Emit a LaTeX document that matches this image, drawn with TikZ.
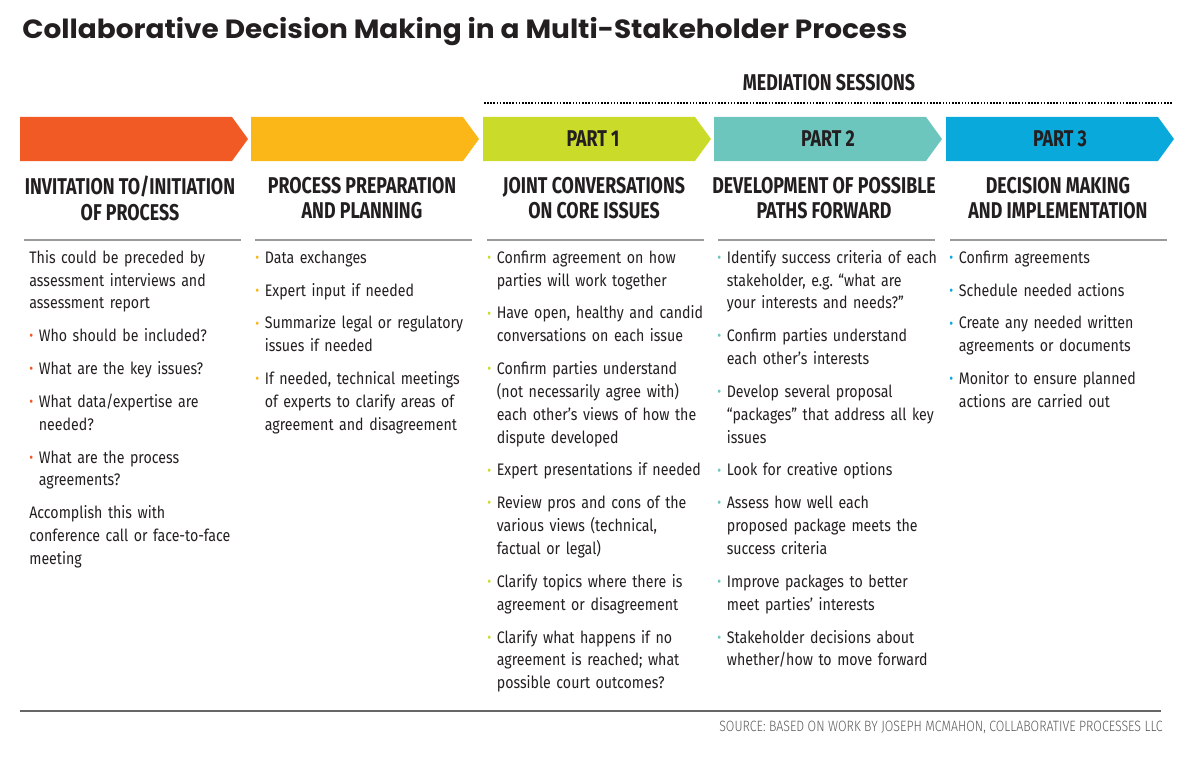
\documentclass[tikz,border=0pt]{standalone}
\usepackage{fontspec}
\setmainfont{Fira Sans}
\newfontfamily\titlefont[FakeStretch=1.06]{Poppins}
\newfontfamily\headfont[FakeStretch=0.78]{Fira Sans}
\newfontfamily\bodyfont[FakeStretch=0.85]{Fira Sans}
\newfontfamily\srcfont[FakeStretch=0.83,UprightFont=* Light]{Fira Sans}

\definecolor{ink}{HTML}{231F20}
\definecolor{orng}{HTML}{F15A24}
\definecolor{yel}{HTML}{FBB618}
\definecolor{lime}{HTML}{CBDB2A}
\definecolor{teal}{HTML}{6DC6BD}
\definecolor{blu}{HTML}{0AA9DC}
\definecolor{rulegray}{HTML}{9A9A9A}

\newlength{\bulw}
\setlength{\bulw}{5.4pt}
\newcommand{\dotb}[1]{\textcolor{#1}{\raisebox{0.5pt}{\fontsize{8}{8}\selectfont\textbullet}}}
\newcommand{\itm}[2]{\par\noindent\hangindent=\bulw\hangafter=1\makebox[\bulw][l]{\dotb{#1}}{\let\\\newline #2}\par}
\newcommand{\para}[1]{\par\noindent{\let\\\newline #1}\par}

\tikzset{
  body/.style={anchor=north west, inner sep=0pt, text width=4.7cm, text=ink,
    font=\bodyfont\fontsize{9.5}{13}\selectfont,
    execute at begin node={\raggedright\setlength{\parskip}{5.7pt}}},
  head/.style={inner sep=0pt, align=center, text=ink,
    font=\headfont\bfseries\fontsize{13}{14.7}\selectfont},
  part/.style={inner sep=0pt, text=ink, font=\headfont\bfseries\fontsize{13}{14}\selectfont},
  rule/.style={rulegray, line width=1.2pt}
}

\begin{document}
\begin{tikzpicture}[x=0.02cm, y=-0.02cm]
  \useasboundingbox (0,0) rectangle (1200,757);

  % title
  \node[anchor=base west, inner sep=0pt, text=ink, font=\titlefont\bfseries\fontsize{15}{17}\selectfont]
    (title) at (22,39) {Collaborative Decision Making in a Multi-Stakeholder Process};

  % mediation sessions
  \node[part] (med) at (829,83) {MEDIATION SESSIONS};
  \draw[line width=0.9pt, dash pattern=on 0.9pt off 0.9pt] (484,103) -- (1172,103);

  % arrows
  \foreach \x/\c in {20/orng, 251/yel, 483/lime, 714/teal, 946/blu}
    \fill[\c] (\x,117) -- ++(212,0) -- ++(16,22) -- ++(-16,22) -- ++(-212,0) -- cycle;
  \node[part] (p1) at (593,139) {PART 1};
  \node[part] (p2) at (828,139) {PART 2};
  \node[part] (p3) at (1060,139) {PART 3};

  % headings
  \node[head] (hA) at (130,198) {INVITATION TO/INITIATION\\OF PROCESS};
  \node[head] (hB) at (362,198) {PROCESS PREPARATION\\AND PLANNING};
  \node[head] (hC) at (594,198) {JOINT CONVERSATIONS\\ON CORE ISSUES};
  \node[head] (hD) at (824,198) {DEVELOPMENT OF POSSIBLE\\PATHS FORWARD};
  \node[head] (hE) at (1058,198) {DECISION MAKING\\AND IMPLEMENTATION};

  % rules under headings
  \foreach \x in {20, 251, 483, 714, 946}
    \draw[rule] (\x+4,240) -- (\x+221,240);

  % column texts
  \node[body] (tA) at (29,230) {%
    \para{This could be preceded by\\assessment interviews and\\assessment report}
    \itm{orng}{Who should be included?}
    \itm{orng}{What are the key issues?}
    \itm{orng}{What data/expertise are\\needed?}
    \itm{orng}{What are the process\\agreements?}
    \para{Accomplish this with\\conference call or face-to-face\\meeting}};

  \node[body] (tB) at (255,230) {%
    \itm{yel}{Data exchanges}
    \itm{yel}{Expert input if needed}
    \itm{yel}{Summarize legal or regulatory\\issues if needed}
    \itm{yel}{If needed, technical meetings\\of experts to clarify areas of\\agreement and disagreement}};

  \node[body] (tC) at (487,230) {%
    \itm{lime}{Confirm agreement on how\\parties will work together}
    \itm{lime}{Have open, healthy and candid\\conversations on each issue}
    \itm{lime}{Confirm parties understand\\(not necessarily agree with)\\each other’s views of how the\\dispute developed}
    \itm{lime}{Expert presentations if needed}
    \itm{lime}{Review pros and cons of the\\various views (technical,\\factual or legal)}
    \itm{lime}{Clarify topics where there is\\agreement or disagreement}
    \itm{lime}{Clarify what happens if no\\agreement is reached; what\\possible court outcomes?}};

  \node[body] (tD) at (717,230) {%
    \itm{teal}{Identify success criteria of each\\stakeholder, e.g.\ “what are\\your interests and needs?”}
    \itm{teal}{Confirm parties understand\\each other’s interests}
    \itm{teal}{Develop several proposal\\“packages” that address all key\\issues}
    \itm{teal}{Look for creative options}
    \itm{teal}{Assess how well each\\proposed package meets the\\success criteria}
    \itm{teal}{Improve packages to better\\meet parties’ interests}
    \itm{teal}{Stakeholder decisions about\\whether/how to move forward}};

  \node[body] (tE) at (949,230) {%
    \itm{blu}{Confirm agreements}
    \itm{blu}{Schedule needed actions}
    \itm{blu}{Create any needed written\\agreements or documents}
    \itm{blu}{Monitor to ensure planned\\actions are carried out}};

  % footer
  \draw[black!60, line width=0.8pt] (20,711) -- (1161,711);
  \node[anchor=base east, inner sep=0pt, text=black!65, font=\srcfont\fontsize{8.5}{10}\selectfont]
    (src) at (1163,731) {SOURCE: BASED ON WORK BY JOSEPH MCMAHON, COLLABORATIVE PROCESSES LLC};
\end{tikzpicture}
\end{document}
